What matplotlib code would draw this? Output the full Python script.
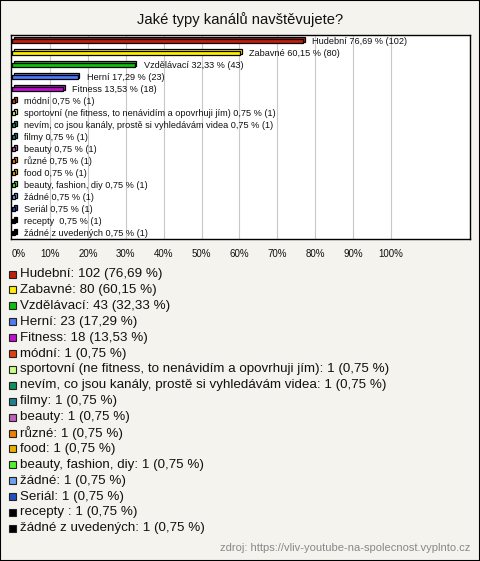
import matplotlib
matplotlib.use("Agg")
import matplotlib.pyplot as plt
import matplotlib.patches as mpatches

plt.rcParams["font.family"] = ["Liberation Sans", "DejaVu Sans"]

categories = [
    "Hudební", "Zabavné", "Vzdělávací", "Herní", "Fitness", "módní",
    "sportovní (ne fitness, to nenávidím a opovrhuji jím)",
    "nevím, co jsou kanály, prostě si vyhledávám videa",
    "filmy", "beauty", "různé", "food", "beauty, fashion, diy",
    "žádné", "Seriál", "recepty ", "žádné z uvedených",
]
counts = [102, 80, 43, 23, 18, 1, 1, 1, 1, 1, 1, 1, 1, 1, 1, 1, 1]
percents = [76.69, 60.15, 32.33, 17.29, 13.53, 0.75, 0.75, 0.75, 0.75,
            0.75, 0.75, 0.75, 0.75, 0.75, 0.75, 0.75, 0.75]
colors = ["#c0200e", "#ffee00", "#10c010", "#4f7af0", "#c010d0", "#e04010",
          "#ccff88", "#109060", "#208090", "#c060c0", "#f08000", "#e8b000",
          "#50f030", "#70a0f0", "#2050c0", "#000000", "#000000"]
xticks = [0, 10, 20, 30, 40, 50, 60, 70, 80, 90, 100]

W, H = 480, 561
bg = "#f4f3ed"


def fmt(v):
    return f"{v:.2f}".replace(".", ",")


fig = plt.figure(figsize=(W / 100, H / 100), dpi=100, facecolor=bg)
fig.patches.append(mpatches.Rectangle((0, 0), 1, 1, transform=fig.transFigure,
                                      fill=False, edgecolor="black", lw=1.5))

fig.text(0.5, 1 - 20 / H, "Jaké typy kanálů navštěvujete?", ha="center",
         va="center", fontsize=10.6, color="#111111")

ax = fig.add_axes([11 / W, 1 - 239 / H, 459 / W, 204 / H], facecolor="white")
n = len(categories)
ys = list(range(n))

# back face (3d effect)
ax.barh([y - 0.13 for y in ys], percents, left=0.5, height=0.36,
        color=colors, edgecolor="black", linewidth=0.9, zorder=3)
# front face
ax.barh(ys, percents, height=0.36, color=colors, edgecolor="black",
        linewidth=0.9, zorder=4)

for y, name, p, c in zip(ys, categories, percents, counts):
    ax.annotate(f"{name} {fmt(p)} % ({c})", xy=(p, y), xytext=(9, 0),
                textcoords="offset pixels", va="center", ha="left",
                fontsize=6.6, color="#111111", zorder=5)

ax.set_xlim(-0.26, 120.8)
ax.set_ylim(n - 0.5, -0.5)
ax.set_yticks([])
ax.set_xticks(xticks)
ax.set_xticklabels([f"{t}%" for t in xticks])
ax.tick_params(axis="x", length=0, pad=7, labelsize=7, labelcolor="#111111")
ax.get_xticklabels()[0].set_horizontalalignment("left")
for t in xticks[1:]:
    ax.axvline(t, color="#c8c8c8", lw=0.8, zorder=1)
for s in ax.spines.values():
    s.set_color("black")
    s.set_linewidth(1.0)

# legend
y0, step = 274, 15.9
for i, (name, p, c, col) in enumerate(zip(categories, percents, counts, colors)):
    yc = y0 + i * step
    fig.patches.append(mpatches.Rectangle((9 / W, 1 - (yc + 3.5) / H), 7 / W, 7 / H,
                                          transform=fig.transFigure, facecolor=col,
                                          edgecolor="#222222", lw=0.8))
    fig.text(20 / W, 1 - yc / H, f"{name}: {c} ({fmt(p)} %)", ha="left",
             va="center", fontsize=9.6, color="#111111")

fig.text(470 / W, 1 - 548 / H, "zdroj: https://vliv-youtube-na-spolecnost.vyplnto.cz",
         ha="right", va="center", fontsize=8, color="#888888")

fig.savefig("out.png", dpi=100, facecolor=bg)
